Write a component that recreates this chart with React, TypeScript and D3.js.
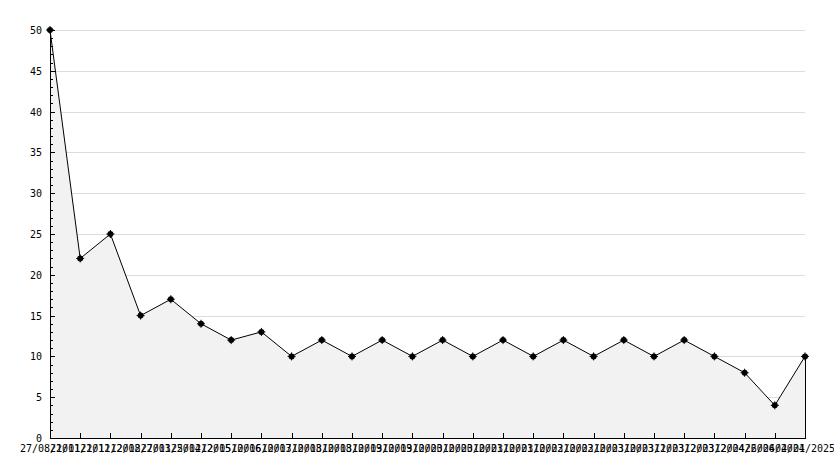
import React from "react";
import * as d3 from "d3";

const dates = [
  "27/08/2011", "21/01/2012", "21/11/2012", "12/08/2013", "27/01/2014",
  "25/02/2015", "12/05/2016", "10/06/2017", "10/03/2018", "10/03/2018",
  "10/03/2019", "10/03/2019", "10/03/2020", "10/03/2020", "10/03/2021",
  "10/03/2021", "10/03/2022", "10/03/2022", "10/03/2023", "10/03/2023",
  "10/03/2023", "11/03/2023", "12/03/2024", "12/04/2024", "26/06/2024",
  "04/01/2025",
];
const values = [50, 22, 25, 15, 17, 14, 12, 13, 10, 12, 10, 12, 10, 12, 10, 12, 10, 12, 10, 12, 10, 12, 10, 8, 4, 10];
const yMajorTicks = [0, 5, 10, 15, 20, 25, 30, 35, 40, 45, 50];

export default function App() {
  const W = 834, H = 468;
  const left = 50, right = 805, top = 30, bottom = 438;
  const x = d3.scaleLinear().domain([0, values.length - 1]).range([left, right]);
  const y = d3.scaleLinear().domain([0, 50]).range([bottom, top]);
  const minor = d3.range(0, 51, 1).filter((v) => v % 5 !== 0);
  const line = d3.line<number>().x((_, i) => x(i)).y((d) => y(d));
  const area = d3.area<number>().x((_, i) => x(i)).y0(y(0)).y1((d) => y(d));
  const font = "'DejaVu Sans Mono', monospace";
  return (
    <svg width={W} height={H} style={{ position: "absolute", left: 0, top: 0, background: "#fff" }} shapeRendering="crispEdges">
      <rect x={0} y={0} width={W} height={H} fill="#fff" />
      {yMajorTicks.filter((v) => v > 0).map((v) => (
        <line key={"g" + v} x1={left} x2={right} y1={y(v) + 0.5} y2={y(v) + 0.5} stroke="#dcdcdc" />
      ))}
      <path d={area(values) || ""} fill="#f2f2f2" stroke="none" />
      <line x1={right + 0.5} x2={right + 0.5} y1={y(values[values.length - 1])} y2={bottom} stroke="#000" />
      <path d={line(values) || ""} fill="none" stroke="#000" strokeWidth={1} shapeRendering="auto" />
      {values.map((v, i) => (
        <g key={"m" + i} shapeRendering="auto">
          <circle cx={x(i)} cy={y(v)} r={3} fill="#000" />
          <line x1={x(i) - 4} x2={x(i) + 4} y1={y(v)} y2={y(v)} stroke="#000" />
          <line x1={x(i)} x2={x(i)} y1={y(v) - 4} y2={y(v) + 4} stroke="#000" />
        </g>
      ))}
      <line x1={left + 0.5} x2={left + 0.5} y1={top} y2={bottom + 1} stroke="#000" />
      <line x1={left} x2={right + 1} y1={bottom + 0.5} y2={bottom + 0.5} stroke="#000" />
      {yMajorTicks.map((v) => (
        <g key={"yt" + v}>
          <line x1={left} x2={left + 5} y1={y(v) + 0.5} y2={y(v) + 0.5} stroke="#000" />
          <text x={42} y={y(v) + 4} textAnchor="end" fontSize={10} fontFamily={font} fill="#000">{v}</text>
        </g>
      ))}
      {minor.map((v) => (
        <line key={"mt" + v} x1={left} x2={left + 3} y1={y(v) + 0.5} y2={y(v) + 0.5} stroke="#000" />
      ))}
      {values.map((_, i) => (
        <line key={"xt" + i} x1={Math.round(x(i)) + 0.5} x2={Math.round(x(i)) + 0.5} y1={bottom} y2={bottom - 5} stroke="#000" />
      ))}
      {dates.map((d, i) => (
        <text key={"xl" + i} x={x(i)} y={452} textAnchor="middle" fontSize={10} fontFamily={font} fill="#000">{d}</text>
      ))}
    </svg>
  );
}
